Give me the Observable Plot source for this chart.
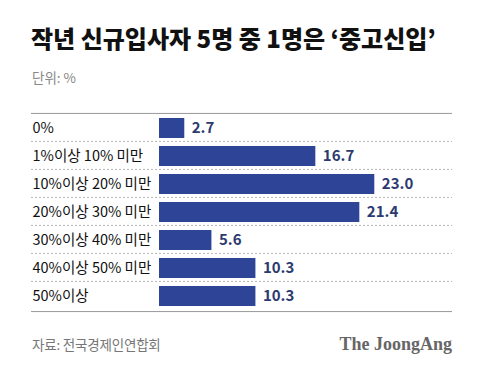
<!DOCTYPE html>
<html>
<head>
<meta charset="utf-8">
<script src="https://cdn.jsdelivr.net/npm/d3@7"></script>
<script src="https://cdn.jsdelivr.net/npm/@observablehq/plot@0.6"></script>
<style>
  html, body { margin: 0; padding: 0; background: #fff; }
  body { width: 480px; height: 374px; position: relative; overflow: hidden; font-family: "Noto Sans CJK KR", sans-serif; }
  #title { position: absolute; left: 31px; top: 26px; font-size: 24px; font-weight: 900; color: #111; letter-spacing: 0px; white-space: nowrap; line-height: 1; }
  #sub { position: absolute; left: 32px; top: 71px; font-size: 13.5px; color: #888; white-space: nowrap; line-height: 1; }
  #chart { position: absolute; left: 0; top: 90px; }
  #source { position: absolute; left: 32px; top: 338px; font-size: 13.5px; color: #777; white-space: nowrap; line-height: 1; letter-spacing: -0.2px; }
  #brand { position: absolute; right: 28px; top: 335px; font-family: "Liberation Serif", "DejaVu Serif", serif; font-weight: 700; font-size: 18px; color: #666; white-space: nowrap; line-height: 1; }
</style>
</head>
<body>
<div id="title">작년 신규입사자 5명 중 1명은 ‘중고신입’</div>
<div id="sub">단위: %</div>
<div id="chart"></div>
<div id="source">자료: 전국경제인연합회</div>
<div id="brand">The JoongAng</div>
<script>
const categories = ["0%", "1%이상 10% 미만", "10%이상 20% 미만", "20%이상 30% 미만", "30%이상 40% 미만", "40%이상 50% 미만", "50%이상"];
const values = [2.7, 16.7, 23.0, 21.4, 5.6, 10.3, 10.3];
const valueLabels = ["2.7", "16.7", "23.0", "21.4", "5.6", "10.3", "10.3"];

const data = categories.map((c, i) => ({category: c, value: values[i], label: valueLabels[i]}));
const step = 211 / 7;

const chart = Plot.plot({
  width: 480,
  height: 235,
  marginTop: 16,
  marginBottom: 8,
  marginLeft: 159,
  marginRight: 28,
  x: {domain: [0, 31.3], axis: null},
  y: {domain: categories, padding: 0.3, axis: null},
  style: {fontFamily: "'Noto Sans CJK KR', sans-serif", background: "#fff"},
  marks: [
    Plot.ruleY(categories.slice(1), {y: d => d, dy: -step / 2, stroke: "#b5b5b5", strokeDasharray: "2,2", strokeWidth: 1, x1: 0, x2: 31.3, insetLeft: -128}),
    Plot.ruleY([categories[0]], {y: d => d, dy: -step / 2, stroke: "#999", strokeWidth: 1, x1: 0, x2: 31.3, insetLeft: -128}),
    Plot.ruleY([categories[categories.length - 1]], {y: d => d, dy: step / 2, stroke: "#999", strokeWidth: 1, x1: 0, x2: 31.3, insetLeft: -128}),
    Plot.barX(data, {x: "value", y: "category", fill: "#2e4597"}),
    Plot.text(data, {x: "value", y: "category", text: "label", textAnchor: "start", dx: 7, fill: "#2c3a70", fontSize: 15, fontWeight: 600}),
    Plot.text(data, {y: "category", text: "category", frameAnchor: "left", textAnchor: "start", dx: -127, fill: "#111", fontSize: 14.5})
  ]
});
document.getElementById("chart").appendChild(chart);
</script>
</body>
</html>
